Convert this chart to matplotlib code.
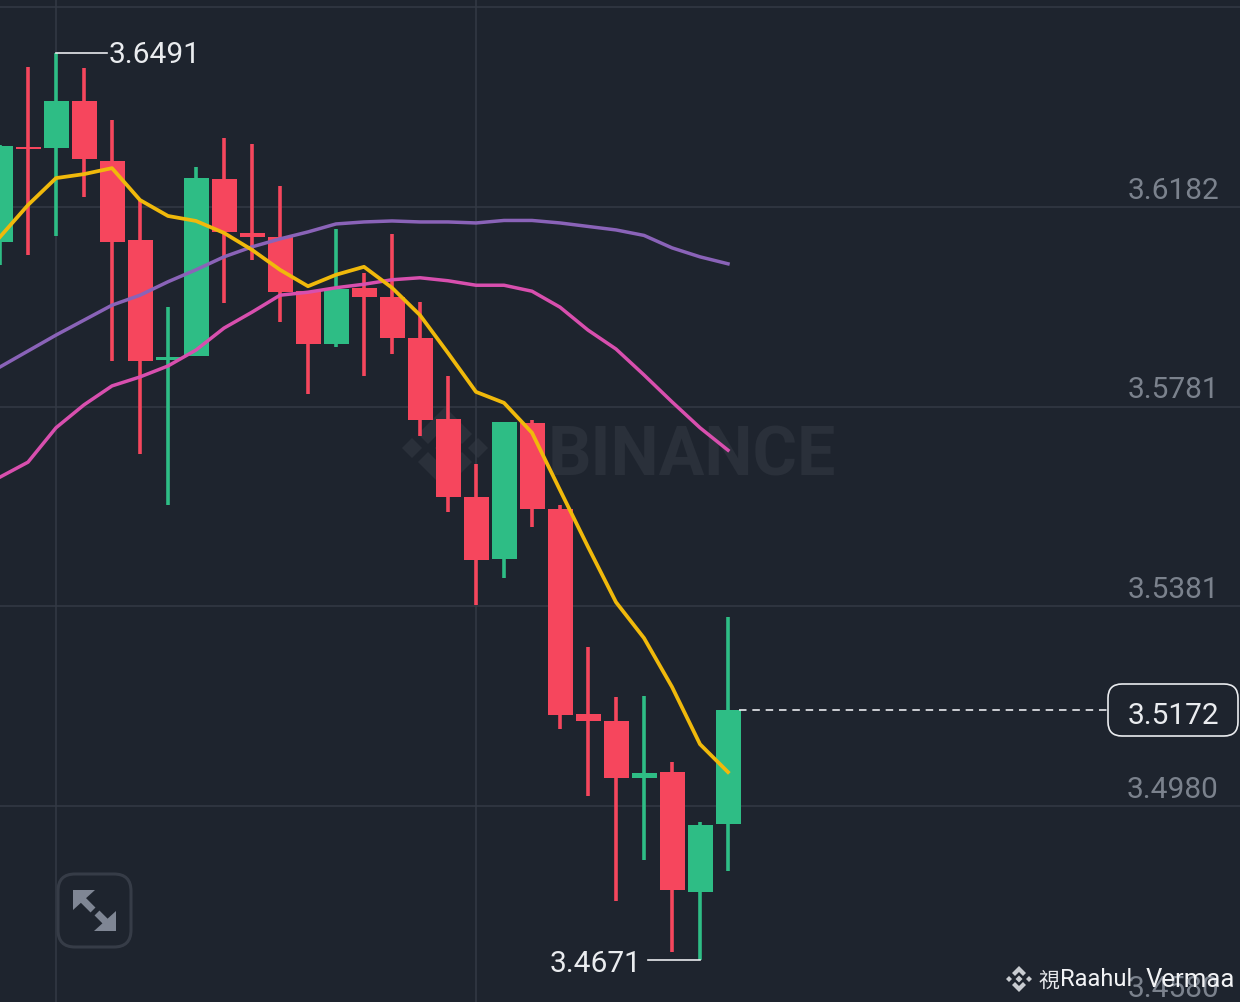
import matplotlib
matplotlib.use('Agg')
import matplotlib.pyplot as plt
from matplotlib.patches import FancyBboxPatch, Polygon

# candles, oldest first
highs = [3.6306, 3.6463, 3.6491, 3.6461, 3.6357, 3.6196, 3.5981, 3.6262, 3.6321, 3.6308,
         3.6224, 3.6013, 3.6138, 3.6050, 3.6128, 3.5991, 3.5843, 3.5666, 3.5751, 3.5755,
         3.5584, 3.5299, 3.5199, 3.5201, 3.5068, 3.4948, 3.5359]
lows = [3.6066, 3.6086, 3.6124, 3.6202, 3.5873, 3.5686, 3.5584, 3.5883, 3.5989, 3.6076,
        3.5951, 3.5807, 3.5901, 3.5843, 3.5887, 3.5723, 3.5570, 3.5384, 3.5438, 3.5540,
        3.5135, 3.5000, 3.4789, 3.4872, 3.4687, 3.4671, 3.4850]
body_tops = [3.6304, 3.6303, 3.6394, 3.6394, 3.6275, 3.6115, 3.5882, 3.6240, 3.6238, 3.6130,
             3.6121, 3.6013, 3.6017, 3.6020, 3.6001, 3.5919, 3.5757, 3.5600, 3.5751, 3.5749,
             3.5576, 3.5165, 3.5150, 3.5047, 3.5048, 3.4942, 3.5172]
body_bots = [3.6112, 3.6298, 3.6300, 3.6279, 3.6112, 3.5873, 3.5875, 3.5883, 3.6131, 3.6121,
             3.6011, 3.5907, 3.5907, 3.6001, 3.5919, 3.5755, 3.5600, 3.5474, 3.5475, 3.5576,
             3.5163, 3.5151, 3.5036, 3.5037, 3.4811, 3.4808, 3.4943]
is_green = [1, 0, 1, 0, 0, 0, 1, 1, 0, 0, 0, 0, 1, 0, 0, 0, 0, 0, 1, 0, 0, 0, 0, 1, 0, 1, 1]

# moving averages
ma_yellow = [3.6122, 3.6186, 3.6240, 3.6248, 3.6260, 3.6196, 3.6164, 3.6154, 3.6130, 3.6096,
             3.6056, 3.6023, 3.6046, 3.6062, 3.6020, 3.5965, 3.5889, 3.5811, 3.5789, 3.5729,
             3.5614, 3.5500, 3.5389, 3.5317, 3.5219, 3.5104, 3.5048]
ma_pink = [3.5640, 3.5670, 3.5739, 3.5785, 3.5823, 3.5841, 3.5863, 3.5895, 3.5939, 3.5971,
           3.6005, 3.6011, 3.6020, 3.6027, 3.6036, 3.6040, 3.6034, 3.6025, 3.6025, 3.6013,
           3.5981, 3.5935, 3.5897, 3.5845, 3.5791, 3.5739, 3.5694]
ma_purple = [3.5861, 3.5893, 3.5925, 3.5955, 3.5985, 3.6005, 3.6032, 3.6056, 3.6082, 3.6102,
             3.6118, 3.6132, 3.6148, 3.6152, 3.6154, 3.6152, 3.6152, 3.6150, 3.6155, 3.6155,
             3.6150, 3.6143, 3.6136, 3.6125, 3.6100, 3.6082, 3.6068]

grid_prices = [3.6583, 3.6182, 3.5781, 3.5381, 3.4980, 3.4580]
label_prices = [3.6182, 3.5781, 3.5381, 3.4980, 3.4580]
tick_labels = ['3.6182', '3.5781', '3.5381', '3.4980', '3.4580']
vgrid_idx = [2, 17]
last_price = 3.5172
high_label = 3.6491
low_label = 3.4671

BG = '#1e242e'
GRID = '#343a45'
GREEN = '#2ebd85'
RED = '#f6465d'
FONT = ['Roboto', 'Noto Sans CJK SC', 'DejaVu Sans']
plt.rcParams['font.family'] = FONT

fig = plt.figure(figsize=(12.4, 10.03), dpi=100, facecolor=BG)

# pixel axes underneath for the watermark, icon and price labels
px = fig.add_axes([0, 0, 1, 1], zorder=0)
px.set_xlim(0, 1240)
px.set_ylim(1003, 0)
px.axis('off')

wm = '#2a303a'
cx, cy = 445, 449
for pts in [[(-10, 0), (0, -10), (10, 0), (0, 10)],
            [(-43, 0), (-33, -10), (-23, 0), (-33, 10)],
            [(43, 0), (33, -10), (23, 0), (33, 10)],
            [(-27, -14), (0, -41), (27, -14), (17, -4), (0, -21), (-17, -4)],
            [(-27, 14), (0, 41), (27, 14), (17, 4), (0, 21), (-17, 4)]]:
    px.add_patch(Polygon([(cx + a, cy + b) for a, b in pts], closed=True, color=wm, lw=0))
px.text(692, 450, 'BINANCE', color=wm, fontsize=49, fontweight='bold', family=FONT,
        ha='center', va='center_baseline')

# expand icon
px.add_patch(FancyBboxPatch((58, 875), 73, 73, boxstyle='round,pad=0,rounding_size=17',
                            fc='none', ec='#363c47', lw=2.2))
icon = '#7f8694'
px.add_patch(Polygon([(73, 891), (95, 891), (73, 911)], closed=True, color=icon, lw=0))
px.add_patch(Polygon([(116, 932), (94, 932), (116, 912)], closed=True, color=icon, lw=0))
px.plot([82, 93], [900, 911], color=icon, lw=5, solid_capstyle='butt')
px.plot([97, 108], [914, 925], color=icon, lw=5, solid_capstyle='butt')

# main axes, price on y, candle number on x
ax = fig.add_axes([0, 0, 1, 1], zorder=1)
ax.patch.set_alpha(0)
ax.set_xlim(0, 1240 / 28)
ax.set_ylim(3.65994 - 1003 * 0.00020067, 3.65994)
ax.axis('off')

for p in grid_prices:
    ax.axhline(p, color=GRID, lw=1.1, zorder=1)
for i in vgrid_idx:
    ax.axvline(i, color=GRID, lw=1.1, zorder=1)

for p, t in zip(label_prices, tick_labels):
    ax.annotate(t, xy=(1219, p), xycoords=('figure pixels', 'data'), xytext=(0, 12.5),
                textcoords='offset points', color='#7b828d', fontsize=21.5,
                ha='right', va='center', zorder=2)

xs = list(range(len(highs)))
colors = [GREEN if g else RED for g in is_green]
ax.vlines(xs, lows, highs, colors=colors, lw=2.6, zorder=3)
heights = [t - b for t, b in zip(body_tops, body_bots)]
ax.bar(xs, heights, bottom=body_bots, width=25 / 28, color=colors, lw=0, zorder=4)

ax.plot(xs, ma_purple, color='#8a63b8', lw=2.5, zorder=5)
ax.plot(xs, ma_pink, color='#d84fae', lw=2.5, zorder=6)
ax.plot(xs, ma_yellow, color='#f0b90b', lw=2.7, zorder=7)

# high / low markers
ax.plot([2, 3.82], [high_label, high_label], color='#e8eaed', lw=1.2, zorder=8)
ax.annotate('3.6491', xy=(3.88, high_label), xytext=(0, -1), textcoords='offset points',
            color='#eaecef', fontsize=21.5, ha='left', va='center', zorder=8)
ax.plot([23.15, 25], [low_label, low_label], color='#e8eaed', lw=1.2, zorder=8)
ax.annotate('3.4671', xy=(22.92, low_label), xytext=(0, -2.2), textcoords='offset points',
            color='#eaecef', fontsize=21.5, ha='right', va='center', zorder=8)

# last price
ax.plot([26.4, 39.6], [last_price, last_price], color='#e8eaed', lw=1.2,
        dashes=(4.5, 3.5), zorder=8)
px2 = fig.add_axes([0, 0, 1, 1], zorder=2)
px2.patch.set_alpha(0)
px2.set_xlim(0, 1240)
px2.set_ylim(1003, 0)
px2.axis('off')
px2.add_patch(FancyBboxPatch((1108, 685), 130, 52, boxstyle='round,pad=0,rounding_size=14',
                             fc=BG, ec='#eaecef', lw=1.2))
px2.text(1173, 716.5, '3.5172', color='#eaecef', fontsize=21.5, ha='center', va='center')

# creator tag bottom right
lg = '#c9ccd1'
tx, ty = 1019, 980
for pts in [[(-3.5, 0), (0, -3.5), (3.5, 0), (0, 3.5)],
            [(-13, 0), (-10, -3), (-7, 0), (-10, 3)],
            [(13, 0), (10, -3), (7, 0), (10, 3)],
            [(-7, -6), (0, -13), (7, -6), (4, -3), (0, -7), (-4, -3)],
            [(-7, 6), (0, 13), (7, 6), (4, 3), (0, 7), (-4, 3)]]:
    px2.add_patch(Polygon([(tx + a, ty + b) for a, b in pts], closed=True, color=lg, lw=0))
px2.text(1038, 981, '視', color='#e8eaed', fontsize=15, ha='left', va='center')
px2.text(1060, 980, 'Raahul', color='#f2f3f5', fontsize=17, ha='left', va='center')
px2.text(1146, 980, 'Vermaa', color='#f2f3f5', fontsize=18.5, ha='left', va='center')

fig.savefig('out.png', dpi=100, facecolor=BG)
